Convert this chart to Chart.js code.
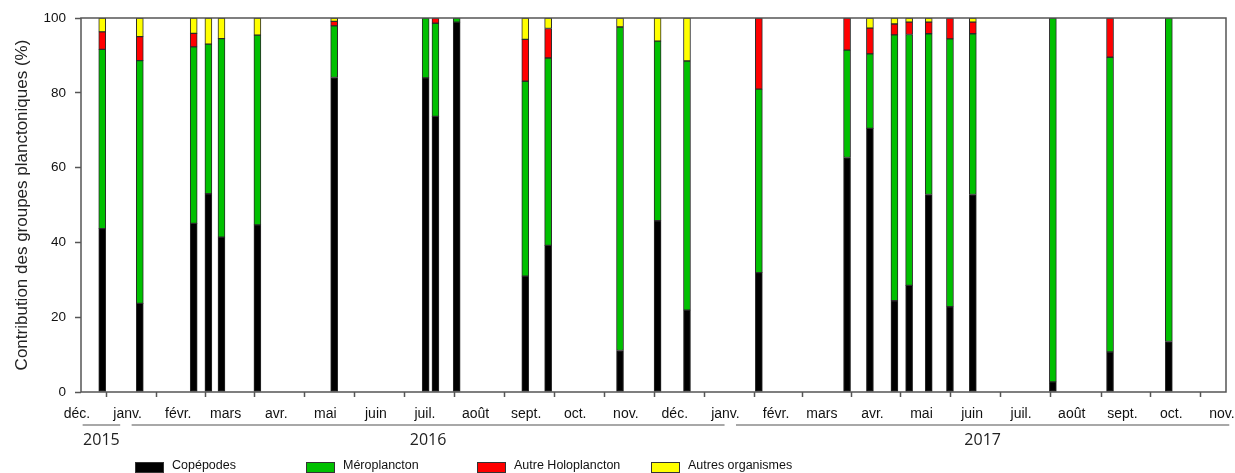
<!DOCTYPE html>
<html lang="fr">
<head>
<meta charset="utf-8">
<title>Contribution des groupes planctoniques</title>
<script src="https://cdn.jsdelivr.net/npm/chart.js@4.4.1/dist/chart.umd.min.js"></script>
<style>
  body { margin: 0; background: #fff; }
  canvas { display: block; }
</style>
</head>
<body>
<canvas id="chart" width="1235" height="473"></canvas>
<script>
// sampling dates (one stacked bar per date)
const sampleDates = [
  '2015-12-14', '2016-01-06', '2016-02-08', '2016-02-17', '2016-02-25', '2016-03-18',
  '2016-05-04', '2016-06-29', '2016-07-05', '2016-07-18', '2016-08-29', '2016-09-12',
  '2016-10-26', '2016-11-18', '2016-12-06', '2017-01-19', '2017-03-14', '2017-03-28',
  '2017-04-12', '2017-04-21', '2017-05-03', '2017-05-16', '2017-05-30', '2017-07-18',
  '2017-08-22', '2017-09-27'
];

// % contribution of each group
const copepodes = [43.7, 23.7, 45.1, 53.0, 41.4, 44.7, 84.1, 84.0, 73.7, 98.9, 31.0, 39.2, 11.1, 45.8, 21.9, 31.9, 62.7, 70.5, 24.4, 28.5, 52.8, 22.8, 52.8, 2.7, 10.7, 13.5];
const meroplancton = [47.9, 64.9, 47.2, 40.0, 53.1, 50.7, 13.8, 16.0, 24.9, 1.1, 52.1, 50.1, 86.5, 48.0, 66.6, 49.1, 28.7, 19.9, 71.1, 67.1, 43.0, 71.6, 43.0, 97.3, 78.8, 86.5];
const autreHoloplancton = [4.7, 6.4, 3.6, 0, 0, 0, 1.2, 0, 1.4, 0, 11.2, 7.9, 0, 0, 0, 19.0, 8.6, 6.9, 2.9, 3.3, 3.1, 5.6, 3.1, 0, 10.5, 0];
const autresOrganismes = [3.7, 5.0, 4.1, 7.0, 5.5, 4.6, 0.9, 0, 0, 0, 5.7, 2.8, 2.4, 6.2, 11.5, 0, 0, 2.7, 1.6, 1.1, 1.1, 0, 1.1, 0, 0, 0];

const monthLabels = [
  'déc.', 'janv.', 'févr.', 'mars', 'avr.', 'mai', 'juin', 'juil.', 'août', 'sept.', 'oct.', 'nov.',
  'déc.', 'janv.', 'févr.', 'mars', 'avr.', 'mai', 'juin', 'juil.', 'août', 'sept.', 'oct.', 'nov.'
];
const yearLabels = ['2015', '2016', '2017'];
const yearSpans = [['2015-12-02', '2015-12-25'], ['2016-01-01', '2016-12-29'], ['2017-01-05', '2017-11-03']];

const axisStart = Date.UTC(2015, 11, 1);
const DAY = 86400000;

function dayOf(str) {
  const [y, m, d] = str.split('-').map(Number);
  return (Date.UTC(y, m - 1, d) - axisStart) / DAY;
}

// first day of every month on the axis (Date.UTC rolls the month over)
const monthStarts = monthLabels.map((_, i) => (Date.UTC(2015, 11 + i, 1) - axisStart) / DAY);

function series(label, values, color) {
  return {
    label: label,
    data: values.map((v, i) => ({ x: dayOf(sampleDates[i]), y: v })),
    backgroundColor: color,
    borderColor: '#2a2a2a',
    borderWidth: 1,
    borderSkipped: false,
    barThickness: 7
  };
}

const framePlugin = {
  id: 'frame',
  afterDatasetsDraw(chart) {
    const { ctx, chartArea: a } = chart;
    ctx.save();
    ctx.strokeStyle = '#555';
    ctx.lineWidth = 1.5;
    ctx.strokeRect(a.left, a.top, a.right - a.left, a.bottom - a.top);
    ctx.restore();
  }
};

// year bands under the month labels
const yearPlugin = {
  id: 'years',
  afterDraw(chart) {
    const ctx = chart.ctx;
    const xs = chart.scales.x;
    ctx.save();
    yearLabels.forEach((label, i) => {
      const x1 = xs.getPixelForValue(dayOf(yearSpans[i][0]));
      const x2 = xs.getPixelForValue(dayOf(yearSpans[i][1]));
      ctx.strokeStyle = '#a8a8a8';
      ctx.lineWidth = 2;
      ctx.beginPath();
      ctx.moveTo(x1, 425);
      ctx.lineTo(x2, 425);
      ctx.stroke();
      ctx.fillStyle = '#222';
      ctx.font = '16px "Open Sans", sans-serif';
      ctx.textAlign = 'center';
      ctx.textBaseline = 'middle';
      ctx.fillText(label, (x1 + x2) / 2, 440);
    });
    ctx.restore();
  }
};

const legendPlugin = {
  id: 'bottomLegend',
  afterDraw(chart) {
    const ctx = chart.ctx;
    const xs = [135, 306, 477, 651];
    ctx.save();
    chart.data.datasets.forEach((ds, i) => {
      ctx.fillStyle = ds.backgroundColor;
      ctx.fillRect(xs[i], 462, 29, 11);
      ctx.strokeStyle = '#333';
      ctx.lineWidth = 1;
      ctx.strokeRect(xs[i] + 0.5, 462.5, 28, 10);
      ctx.fillStyle = '#111';
      ctx.font = '12.5px "Liberation Sans", Arial, sans-serif';
      ctx.textAlign = 'left';
      ctx.textBaseline = 'middle';
      ctx.fillText(ds.label, xs[i] + 37, 466);
    });
    ctx.restore();
  }
};

new Chart(document.getElementById('chart'), {
  type: 'bar',
  data: {
    datasets: [
      series('Copépodes', copepodes, '#000000'),
      series('Méroplancton', meroplancton, '#00c000'),
      series('Autre Holoplancton', autreHoloplancton, '#ff0000'),
      series('Autres organismes', autresOrganismes, '#ffff00')
    ]
  },
  options: {
    responsive: false,
    devicePixelRatio: 1,
    animation: false,
    layout: { padding: { top: 18, right: 9, left: 0, bottom: 0 } },
    plugins: {
      legend: { display: false },
      tooltip: { enabled: false }
    },
    scales: {
      x: {
        type: 'linear',
        min: 0,
        max: monthStarts[monthStarts.length - 1],
        offset: false,
        stacked: true,
        afterBuildTicks: s => { s.ticks = monthStarts.map(v => ({ value: v })); },
        afterFit: s => { s.height = 81; s.paddingLeft = 0; s.paddingRight = 0; },
        ticks: {
          autoSkip: false,
          maxRotation: 0,
          padding: 9,
          labelOffset: -4,
          color: '#111',
          font: { family: '"Liberation Sans", Arial, sans-serif', size: 14 },
          callback: (v, i) => monthLabels[i]
        },
        grid: { drawOnChartArea: false, tickLength: 5, tickColor: '#555', tickWidth: 1.5 },
        border: { display: false }
      },
      y: {
        min: 0,
        max: 100,
        stacked: true,
        afterFit: s => { s.width = 81; s.paddingTop = 0; s.paddingBottom = 0; },
        ticks: {
          stepSize: 20,
          padding: 9,
          color: '#111',
          font: { family: '"Liberation Sans", Arial, sans-serif', size: 13.5 }
        },
        grid: { drawOnChartArea: false, tickLength: 6, tickColor: '#555', tickWidth: 1.5 },
        border: { display: false },
        title: {
          display: true,
          text: 'Contribution des groupes planctoniques (%)',
          color: '#222',
          padding: { top: 12 },
          font: { family: '"Liberation Sans", Arial, sans-serif', size: 17 }
        }
      }
    }
  },
  plugins: [framePlugin, yearPlugin, legendPlugin]
});
</script>
</body>
</html>
